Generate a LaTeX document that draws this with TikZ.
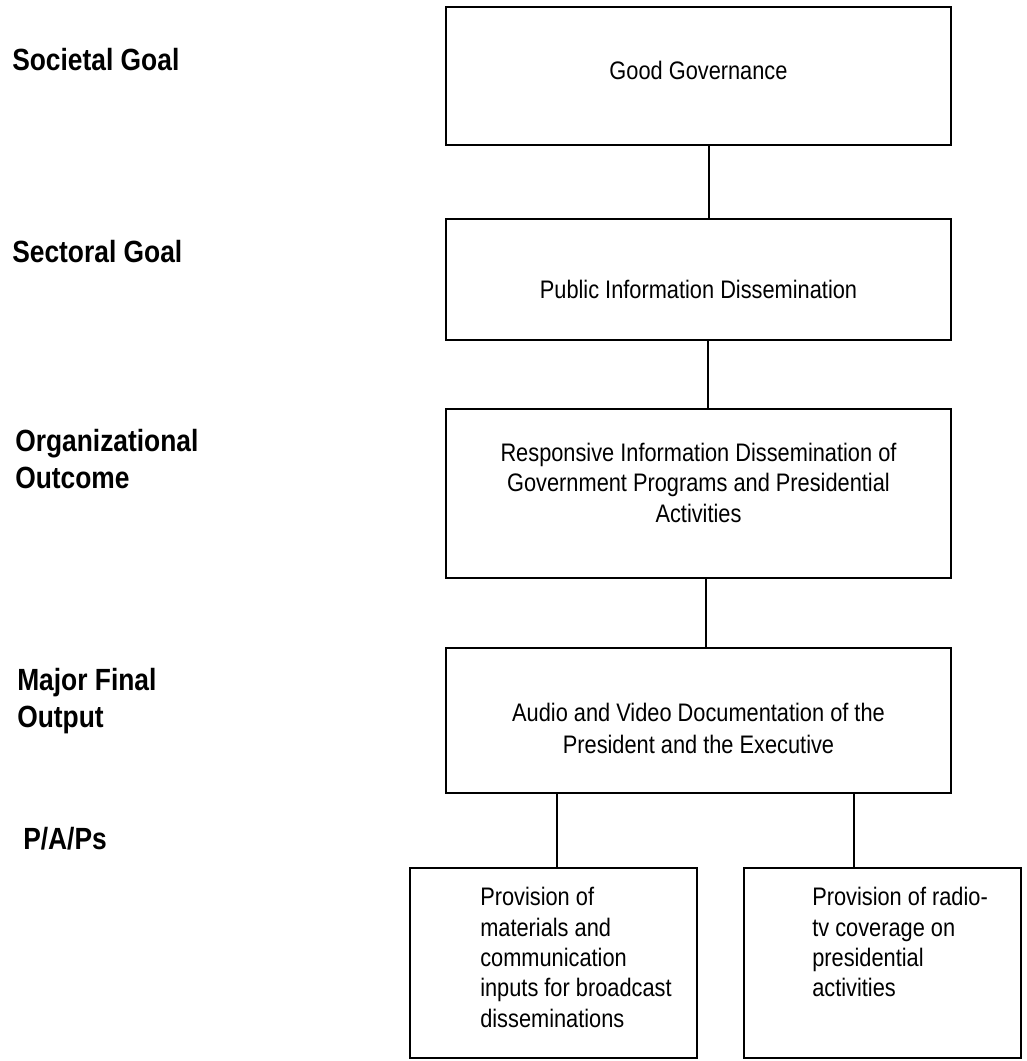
\documentclass[tikz,border=0pt]{standalone}
\usepackage{fontspec}
\setmainfont{Liberation Sans}[FakeStretch=0.86]
\usetikzlibrary{calc}
\begin{document}
\begin{tikzpicture}[x=0.75pt,y=-0.75pt,
  box/.style={draw, line width=2.2pt, inner sep=0pt, rectangle},
  conn/.style={line width=0.9pt},
  btext/.style={font=\fontsize{19}{22.9}\selectfont, align=center, anchor=north, inner sep=0pt},
  ltext/.style={font=\fontsize{19}{22.8}\selectfont, align=left, anchor=north west, inner sep=0pt},
  lab/.style={font=\bfseries\fontsize{23}{27.4}\selectfont, align=left, anchor=north west, inner sep=0pt}]
\useasboundingbox (0,0) rectangle (1026,1061);
% boxes
\node[box, minimum width=505*0.75pt, minimum height=138*0.75pt] (b1) at (698.5,76) {};
\node[box, minimum width=505*0.75pt, minimum height=121*0.75pt] (b2) at (698.5,279.5) {};
\node[box, minimum width=505*0.75pt, minimum height=169*0.75pt] (b3) at (698.5,493.5) {};
\node[box, minimum width=505*0.75pt, minimum height=145*0.75pt] (b4) at (698.5,720.5) {};
\node[box, minimum width=287*0.75pt, minimum height=190*0.75pt] (b5) at (553.5,963) {};
\node[box, minimum width=277*0.75pt, minimum height=190*0.75pt] (b6) at (882.5,963) {};
% box texts
\node[btext] (t1) at (698.5,60.7) {Good Governance};
\node[btext] (t2) at (698.5,280) {Public Information Dissemination};
\node[btext] (t3) at (698.5,442.7) {Responsive Information Dissemination of\\Government Programs and Presidential\\Activities};
\node[btext, font=\fontsize{19}{24}\selectfont] (t4) at (698.5,703.3) {Audio and Video Documentation of the\\President and the Executive};
\node[ltext] (t5) at (480,887) {Provision of\\materials and\\communication\\inputs for broadcast\\disseminations};
\node[ltext] (t6) at (812,887) {Provision of radio-\\tv coverage on\\presidential\\activities};
% labels
\node[lab] (l1) at (12,48.3) {Societal Goal};
\node[lab] (l2) at (12,240) {Sectoral Goal};
\node[lab] (l3) at (15,429.3) {Organizational\\Outcome};
\node[lab] (l4) at (17,668.3) {Major Final\\Output};
\node[lab] (l5) at (23,827) {P/A/Ps};
% connectors
\draw[conn] ($(b1.south)+(10.5,0)$) -- ($(b2.north)+(10.5,0)$);
\draw[conn] ($(b2.south)+(9.5,0)$) -- ($(b3.north)+(9.5,0)$);
\draw[conn] ($(b3.south)+(7.5,0)$) -- ($(b4.north)+(7.5,0)$);
\coordinate (c5) at ($(b4.south)+(-141.5,0)$);
\coordinate (c6) at ($(b4.south)+(155.5,0)$);
\draw[conn] (c5) -- (c5 |- b5.north);
\draw[conn] (c6) -- (c6 |- b6.north);
\end{tikzpicture}
\end{document}
